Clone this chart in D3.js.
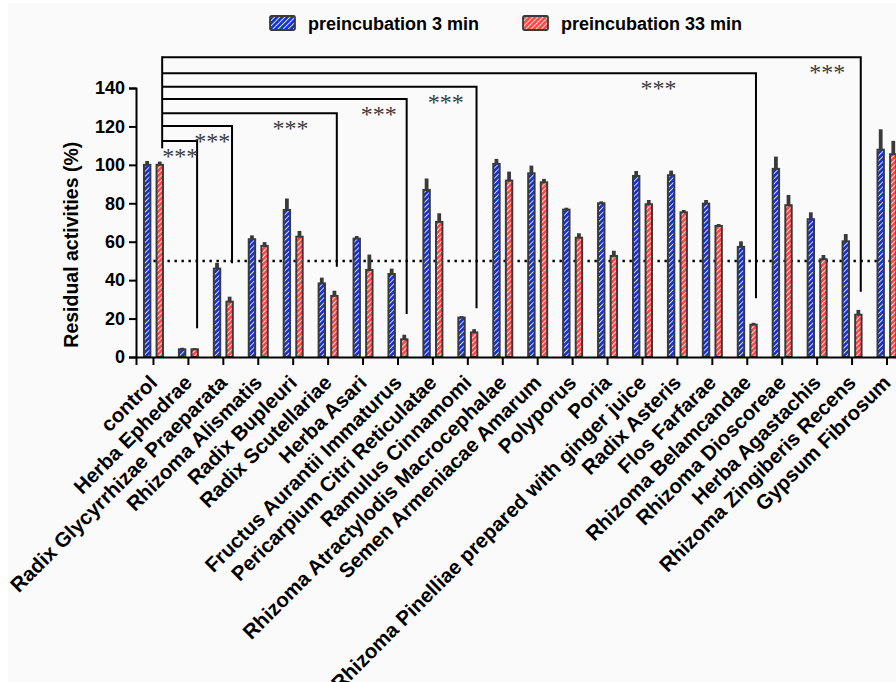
<!DOCTYPE html>
<html>
<head>
<meta charset="utf-8">
<script src="https://cdn.jsdelivr.net/npm/d3@7"></script>
<style>
  html, body { margin: 0; padding: 0; background: #ffffff; }
  svg { display: block; font-family: "Liberation Sans", Arial, sans-serif; }
</style>
</head>
<body>
<svg id="chart" width="896" height="682"></svg>
<script>
// ---- data ----
const categories = [
  "control", "Herba Ephedrae", "Radix Glycyrrhizae Praeparata", "Rhizoma Alismatis",
  "Radix Bupleuri", "Radix Scutellariae", "Herba Asari", "Fructus Aurantii Immaturus",
  "Pericarpium Citri Reticulatae", "Ramulus Cinnamomi", "Rhizoma Atractylodis Macrocephalae",
  "Semen Armeniacae Amarum", "Polyporus", "Poria", "Rhizoma Pinelliae prepared with ginger juice",
  "Radix Asteris", "Flos Farfarae", "Rhizoma Belamcandae", "Rhizoma Dioscoreae",
  "Herba Agastachis", "Rhizoma Zingiberis Recens", "Gypsum Fibrosum"
];
const seriesNames = ["preincubation 3 min", "preincubation 33 min"];
const pre3  = [100, 4, 46, 61.3, 76.5, 38.3, 61.6, 43.2, 86.9, 20.5, 100.5, 95.6, 76.7, 80, 94.2, 94.6, 79.8, 57.3, 97.9, 71.7, 60.2, 107.9];
const err3  = [2, 0.8, 3, 2, 6, 3, 1.4, 2.8, 6, 0.8, 2.6, 4, 1, 1, 2.6, 2.4, 1.9, 2.9, 6.4, 3.6, 3.8, 10.6];
const pre33 = [100, 4, 28.8, 57.8, 62.6, 31.8, 45.3, 9.2, 70.3, 12.8, 91.8, 90.9, 62.1, 52.6, 79.5, 75.3, 68.2, 16.8, 79, 50.9, 22, 105.5];
const err33 = [1.7, 0.6, 2.6, 2, 3, 2.7, 8, 2.4, 4.5, 1.7, 4.7, 1.8, 2.3, 2.7, 2.2, 1.2, 1, 1, 5.3, 2.2, 2.5, 7];
const yTicks = [0, 20, 40, 60, 80, 100, 120, 140];
const halfLine = 50;

// significance brackets: control vs target, in value units
const controlDrop = 108.6;
const brackets = [
  { target: "Herba Ephedrae",                level: 112.4, drop: 14.9, star: 0.77 },
  { target: "Radix Glycyrrhizae Praeparata", level: 120.2, drop: 48.8, star: 1.68 },
  { target: "Radix Scutellariae",            level: 126.8, drop: 47.0, star: 3.92 },
  { target: "Fructus Aurantii Immaturus",    level: 134.3, drop: 22.4, star: 6.45 },
  { target: "Ramulus Cinnamomi",             level: 140.7, drop: 25.4, star: 8.37 },
  { target: "Rhizoma Belamcandae",           level: 147.7, drop: 30.6, star: 14.46 },
  { target: "Rhizoma Zingiberis Recens",     level: 156.0, drop: 34.0, star: 19.29 }
];

// ---- layout ----
const W = 896, H = 682;
const plotLeft = 136, plotBottom = 357, plotTop = 88;
const step = 34.93;
const ink = "#3a3a3a";
const colors = ["#1531d4", "#ff4646"];

const svg = d3.select("#chart");
svg.append("rect").attr("x", 8).attr("y", 3).attr("width", W).attr("height", H).attr("fill", "#fafafa");

const x = d3.scaleBand().domain(categories).range([plotLeft, plotLeft + step * categories.length]).padding(0);
const cx = c => x(c) + x.bandwidth() / 2;
const sub = d3.scalePoint().domain(seriesNames).range([-6.3, 6.3]);
const y = d3.scaleLinear().domain([0, 140]).range([plotBottom, plotTop]);
const barW = 6.4;

// hatch patterns
const defs = svg.append("defs");
colors.forEach((col, i) => {
  const p = defs.append("pattern")
    .attr("id", "hatch" + i)
    .attr("patternUnits", "userSpaceOnUse")
    .attr("width", 3.6).attr("height", 3.6)
    .attr("patternTransform", "rotate(45)");
  p.append("rect").attr("width", 3.6).attr("height", 3.6).attr("fill", col);
  p.append("line").attr("x1", 0.5).attr("y1", 0).attr("x2", 0.5).attr("y2", 3.6)
    .attr("stroke", "#ffffff").attr("stroke-width", 0.9).attr("opacity", 0.9);
});

// dotted 50% guide
svg.append("line")
  .attr("x1", cx(categories[0])).attr("x2", W)
  .attr("y1", y(halfLine)).attr("y2", y(halfLine))
  .attr("stroke", "#000").attr("stroke-width", 2.4)
  .attr("stroke-dasharray", "2.4,4.6");

// bars + error bars
const rows = categories.map((c, i) => ({ c, vals: [pre3[i], pre33[i]], errs: [err3[i], err33[i]] }));
const g = svg.append("g");
rows.forEach(r => {
  seriesNames.forEach((s, k) => {
    const bx = cx(r.c) + sub(s);
    g.append("line")
      .attr("x1", bx).attr("x2", bx)
      .attr("y1", y(r.vals[k])).attr("y2", y(r.vals[k] + r.errs[k]))
      .attr("stroke", ink).attr("stroke-width", 3.8);
    g.append("rect")
      .attr("x", bx - barW / 2).attr("width", barW)
      .attr("y", y(r.vals[k])).attr("height", y(0) - y(r.vals[k]))
      .attr("fill", `url(#hatch${k})`)
      .attr("stroke", ink).attr("stroke-width", 2);
  });
});

// axes
const yAxis = svg.append("g")
  .attr("transform", `translate(${plotLeft},0)`)
  .call(d3.axisLeft(y).tickValues(yTicks).tickSize(7).tickPadding(4));
const xAxis = svg.append("g")
  .attr("transform", `translate(0,${plotBottom})`)
  .call(d3.axisBottom(x).tickSize(8).tickFormat(""));
[yAxis, xAxis].forEach(a => {
  a.select(".domain").attr("stroke", "#000").attr("stroke-width", 2);
  a.selectAll(".tick line").attr("stroke", "#000").attr("stroke-width", 2);
});
yAxis.selectAll(".tick text")
  .attr("font-size", 18).attr("font-weight", "bold").attr("fill", "#000")
  .attr("font-family", "'Liberation Sans', Arial, sans-serif");

// rotated category labels
svg.append("g").selectAll("text")
  .data(categories)
  .join("text")
  .attr("transform", c => `translate(${cx(c) + 5},${plotBottom + 27}) rotate(-45)`)
  .attr("text-anchor", "end")
  .attr("font-size", 20.5).attr("font-weight", "bold").attr("fill", "#000")
  .text(c => c);

// y axis title
svg.append("text")
  .attr("transform", `translate(78,${(y(0) + y(120)) / 2 + 3}) rotate(-90)`)
  .attr("text-anchor", "middle")
  .attr("font-size", 19.5).attr("font-weight", "bold").attr("fill", "#000")
  .text("Residual activities (%)");

// significance brackets
const bx0 = cx(categories[0]) + 8.7;
const br = svg.append("g").attr("stroke", "#000").attr("stroke-width", 2).attr("fill", "none");
br.append("line").attr("x1", bx0).attr("x2", bx0)
  .attr("y1", y(d3.max(brackets, b => b.level)) - 1).attr("y2", y(controlDrop));
brackets.forEach(b => {
  const bx1 = cx(b.target) + 8.7;
  br.append("path")
    .attr("d", `M${bx0},${y(b.level)}H${bx1}V${y(b.drop)}`);
  svg.append("text")
    .attr("x", cx(categories[0]) + b.star * step)
    .attr("y", y(b.level) + 23)
    .attr("text-anchor", "middle")
    .attr("font-family", "'Liberation Serif', 'Times New Roman', serif")
    .attr("font-size", 24).attr("fill", "#3a3a3a")
    .text("***");
});

// legend
const legend = svg.append("g").attr("transform", "translate(270,16)");
seriesNames.forEach((s, k) => {
  const lg = legend.append("g").attr("transform", `translate(${k * 253},0)`);
  lg.append("rect").attr("width", 25).attr("height", 14).attr("rx", 1.5)
    .attr("fill", `url(#hatch${k})`).attr("stroke", ink).attr("stroke-width", 1.8);
  lg.append("text").attr("x", 38).attr("y", 13.5)
    .attr("font-size", 18).attr("font-weight", "bold").attr("fill", "#000")
    .text(s);
});
</script>
</body>
</html>
